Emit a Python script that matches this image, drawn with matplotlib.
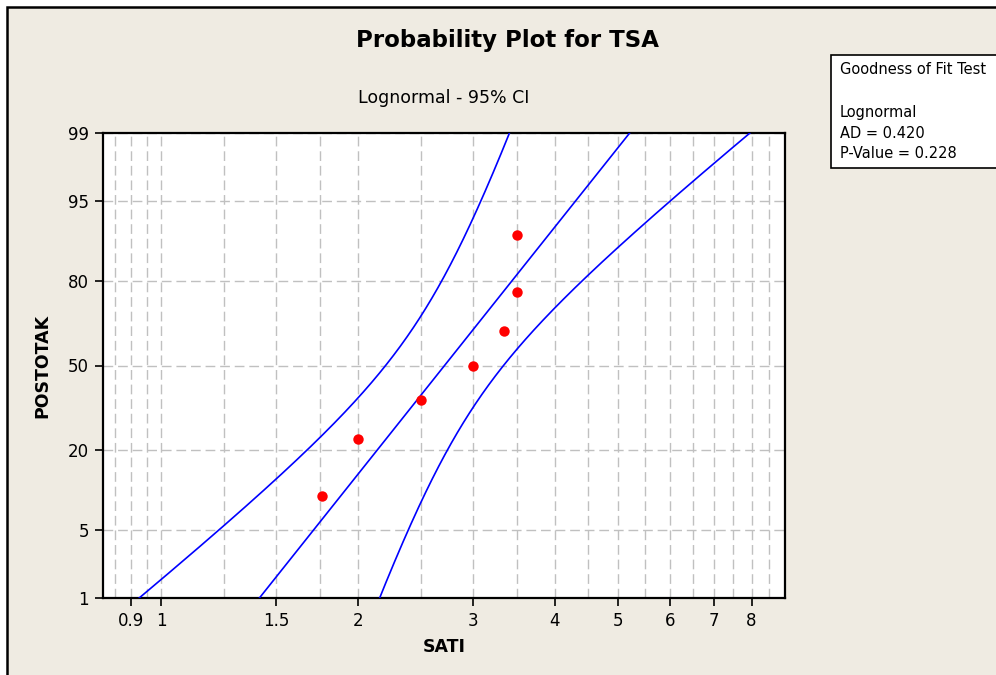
import numpy as np
import matplotlib
matplotlib.use("Agg")
import matplotlib.pyplot as plt
from matplotlib.patches import Rectangle
from statistics import NormalDist

# podaci (sati) i pozicije na grafu (postotak)
sati = [1.76, 2.0, 2.5, 3.0, 3.35, 3.5, 3.5]
postotak = [9.5, 23.0, 36.5, 50.0, 63.5, 77.0, 90.5]

x_ticks = [0.9, 1, 1.5, 2, 3, 4, 5, 6, 7, 8]
x_grid = [0.85, 0.95, 1.25, 1.75, 2.5, 3.5, 4.5, 5.5, 6.5, 7.5, 8.5]
y_ticks = [1, 5, 20, 50, 80, 95, 99]

gof_lines = ["Goodness of Fit Test", "", "Lognormal", "AD = 0.420", "P-Value = 0.228"]

bg = "#efebe2"
nd = NormalDist()


def fwd(p):
    p = np.clip(np.asarray(p, float), 1e-6, 100 - 1e-6)
    return np.vectorize(lambda v: nd.inv_cdf(v / 100.0), otypes=[float])(p)


def inv(z):
    z = np.asarray(z, float)
    return np.vectorize(lambda v: nd.cdf(v) * 100.0, otypes=[float])(z)


# lognormal fit + 95% CI
ln_x = np.log(sati)
n = len(sati)
mu = ln_x.mean()
sigma = ln_x.std(ddof=1)
p_line = np.linspace(0.3, 99.7, 500)
z_line = fwd(p_line)
fit = mu + sigma * z_line
half = 1.96 * np.sqrt(sigma**2 / n + z_line**2 * sigma**2 / (2 * (n - 1)))

fig = plt.figure(figsize=(9.96, 6.75), dpi=100, facecolor="white")
W, H = 996, 675
fig.patches.append(Rectangle((7 / W, -0.1), 1.2, 1 - 7 / H + 0.1, transform=fig.transFigure,
                             facecolor=bg, edgecolor="black", linewidth=1.8, zorder=-10))

ax = fig.add_axes([103 / W, 1 - 598 / H, (785 - 103) / W, (598 - 133) / H])
ax.set_facecolor("white")
ax.set_xscale("log")
ax.set_yscale("function", functions=(fwd, inv))
ax.set_xlim(0.815, 9.0)
ax.set_ylim(1, 99)

ax.plot(np.exp(fit), p_line, color="#0000ff", lw=1.2, zorder=3)
ax.plot(np.exp(fit - half), p_line, color="#0000ff", lw=1.2, zorder=3)
ax.plot(np.exp(fit + half), p_line, color="#0000ff", lw=1.2, zorder=3)
ax.plot(sati, postotak, "o", color="#ff0000", markersize=7.5, markeredgewidth=0, zorder=4)

ax.set_xticks(x_ticks)
ax.set_xticklabels([str(v) for v in x_ticks])
ax.set_xticks(x_grid, minor=True)
ax.xaxis.set_minor_formatter(plt.NullFormatter())
ax.set_yticks(y_ticks)
ax.set_yticklabels([str(v) for v in y_ticks])
ax.yaxis.set_minor_locator(plt.NullLocator())

ax.tick_params(axis="both", which="major", direction="out", length=6, width=1.2,
               labelsize=12, pad=4)
ax.tick_params(axis="x", which="minor", length=0)

dash = (0, (7, 3.5))
ax.grid(True, which="both", axis="x", color="#c0c0c0", linestyle=dash, lw=1.0)
ax.grid(True, which="major", axis="y", color="#c0c0c0", linestyle=dash, lw=1.0)
ax.set_axisbelow(True)

for s in ax.spines.values():
    s.set_linewidth(1.6)
    s.set_color("black")

ax.set_xlabel("SATI", fontsize=12.5, fontweight="bold", labelpad=6)
ax.set_ylabel("POSTOTAK", fontsize=12.5, fontweight="bold", labelpad=12)

fig.text(507 / W, 1 - 40 / H, "Probability Plot for TSA", fontsize=16.5, fontweight="bold",
         ha="center", va="center")
fig.text(444 / W, 1 - 98 / H, "Lognormal - 95% CI", fontsize=12.5, ha="center", va="center")

# okvir za goodness of fit
fig.patches.append(Rectangle((831 / W, 1 - 168 / H), 0.3, (168 - 55) / H, transform=fig.transFigure,
                             facecolor="white", edgecolor="black", linewidth=1.2, zorder=5))
ys = [70, 92, 113, 133, 153]
for t, y in zip(gof_lines, ys):
    fig.text(840 / W, 1 - y / H, t, fontsize=10.5, ha="left", va="center", zorder=6)

fig.savefig("out.png", dpi=100, facecolor="white")
